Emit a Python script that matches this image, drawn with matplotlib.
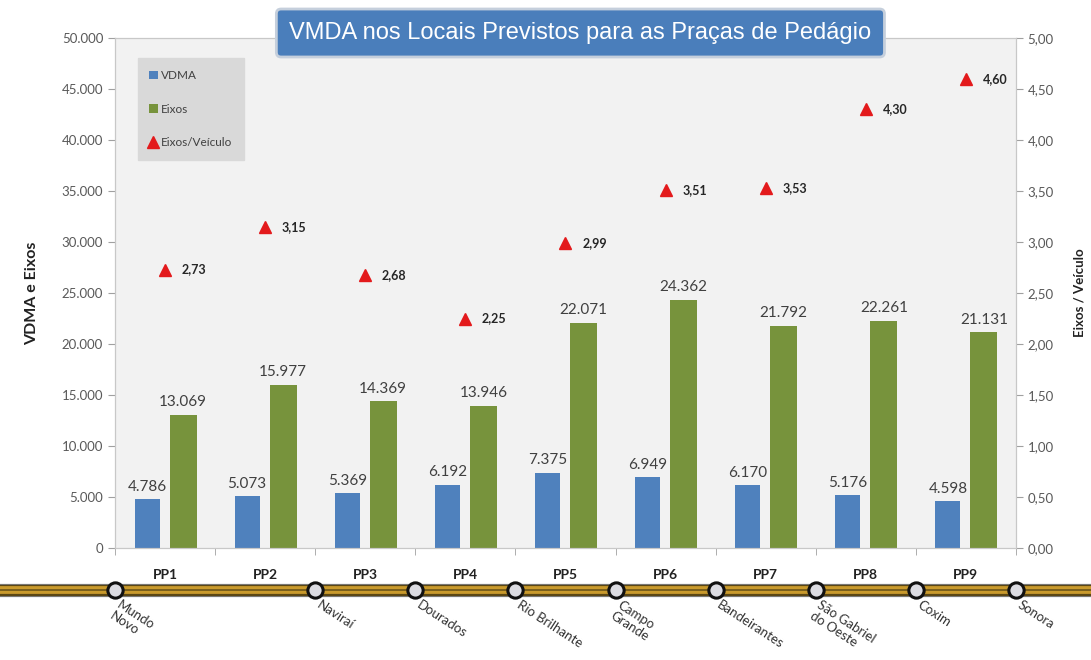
"""VMDA nos locais previstos para as praças de pedágio - bars + ratio markers over a rail strip."""
import numpy as np
import matplotlib
matplotlib.use("Agg")
import matplotlib.pyplot as plt
import matplotlib.transforms as mtransforms
from matplotlib.ticker import FuncFormatter, MultipleLocator

plt.rcParams["font.family"] = ["Lato", "DejaVu Sans"]

pracas = ["PP1", "PP2", "PP3", "PP4", "PP5", "PP6", "PP7", "PP8", "PP9"]
vdma = [4786, 5073, 5369, 6192, 7375, 6949, 6170, 5176, 4598]
eixos = [13069, 15977, 14369, 13946, 22071, 24362, 21792, 22261, 21131]
eixos_veic = [2.73, 3.15, 2.68, 2.25, 2.99, 3.51, 3.53, 4.30, 4.60]
# cities sit on the boundaries between toll plazas (boundary index 0..9)
cidades = ["Mundo\nNovo", "Naviraí", "Dourados", "Rio Brilhante", "Campo\nGrande",
           "Bandeirantes", "São Gabriel\ndo Oeste", "Coxim", "Sonora"]
cidade_pos = [0, 2, 3, 4, 5, 6, 7, 8, 9]

BLUE = "#4f81bd"
GREEN = "#77933c"
RED = "#e31a1c"
GREY_TXT = "#595959"

fig = plt.figure(figsize=(10.91, 6.6), dpi=100, facecolor="white")
ax = fig.add_axes([0.1054, 0.1697, 0.8258, 0.7727])
ax.set_facecolor("#f2f2f2")

x = np.arange(len(pracas))
b1 = ax.bar(x - 0.18, vdma, width=0.25, color=BLUE, label="VDMA")
b2 = ax.bar(x + 0.18, eixos, width=0.27, color=GREEN, label="Eixos")
fmt_mil = lambda v: f"{v:,.0f}".replace(",", ".")
ax.bar_label(b1, labels=[fmt_mil(v) for v in vdma], padding=4, fontsize=11, color="#404040")
ax.bar_label(b2, labels=[fmt_mil(v) for v in eixos], padding=4, fontsize=11, color="#404040")

ax.set_xlim(-0.5, len(pracas) - 0.5)
ax.set_ylim(0, 50000)
ax.yaxis.set_major_locator(MultipleLocator(5000))
ax.yaxis.set_major_formatter(FuncFormatter(lambda v, p: fmt_mil(v)))
ax.tick_params(axis="y", labelsize=9.5, labelcolor=GREY_TXT, color="#a0a0a0", length=5)
ax.set_xticks(x)
ax.set_xticklabels(pracas, fontweight="bold", fontsize=10, color="#222222")
ax.set_xticks(np.arange(-0.5, len(pracas)), minor=True)
ax.tick_params(axis="x", which="major", length=0, pad=15)
ax.tick_params(axis="x", which="minor", length=5, color="#a0a0a0")
for s in ax.spines.values():
    s.set_color("#c8c8c8")
ax.set_ylabel("VDMA e Eixos", fontsize=11.5, fontweight="bold", color="#222222", labelpad=16)

ax2 = ax.twinx()
ax2.set_ylim(0, 5)
tri, = ax2.plot(x, eixos_veic, linestyle="none", marker="^", markersize=8, color=RED,
                label="Eixos/Veículo")
for xi, v in zip(x, eixos_veic):
    ax2.annotate(f"{v:.2f}".replace(".", ","), (xi, v), xytext=(12, 0), textcoords="offset points",
                 va="center", ha="left", fontsize=9, fontweight="bold", color="#262626")
ax2.yaxis.set_major_locator(MultipleLocator(0.5))
ax2.yaxis.set_major_formatter(FuncFormatter(lambda v, p: f"{v:.2f}".replace(".", ",")))
ax2.tick_params(axis="y", labelsize=9.5, labelcolor=GREY_TXT, color="#a0a0a0", length=5)
for s in ax2.spines.values():
    s.set_color("#c8c8c8")
ax2.set_ylabel("Eixos / Veículo", fontsize=9.5, fontweight="bold", color="#222222", labelpad=14)

leg = ax.legend(handles=[b1, b2, tri], loc="upper left", bbox_to_anchor=(0.025, 0.96),
                fontsize=8.5, frameon=True, fancybox=False, facecolor="#d9d9d9", edgecolor="#d9d9d9",
                framealpha=1, labelspacing=1.9, handlelength=0.7, handleheight=0.7,
                handletextpad=0.3, borderpad=1.0, borderaxespad=0)
for t in leg.get_texts():
    t.set_color("#404040")
leg.set_zorder(5)

# rail strip below the plot: x follows the category scale, y in figure fraction
tr = mtransforms.blended_transform_factory(ax.transData, fig.transFigure)
y_rail = 0.106
for lw, col in [(9.5, "#7a7a7a"), (8, "#5b4714"), (5.6, "#c99a2c"), (1.2, "#6b5418")]:
    ax.plot([-3, 11], [y_rail, y_rail], transform=tr, lw=lw, color=col,
            solid_capstyle="butt", clip_on=False, zorder=4)
bx = np.array(cidade_pos) - 0.5
ax.plot(bx, [y_rail] * len(bx), transform=tr, linestyle="none", marker="o", markersize=11,
        markerfacecolor="#dcdce2", markeredgecolor="#111111", markeredgewidth=2.2, clip_on=False,
        zorder=6)
for xb, nome in zip(bx, cidades):
    ax.text(xb + 0.06, y_rail - 0.013, nome, transform=tr, rotation=-33, rotation_mode="anchor",
            ha="left", va="top", fontsize=9.5, color="#333333", linespacing=1.1, clip_on=False)

fig.text(0.532, 0.95, "VMDA nos Locais Previstos para as Praças de Pedágio", ha="center", va="center",
         fontsize=17, color="white", family=["Liberation Sans", "DejaVu Sans"],
         bbox=dict(boxstyle="round,pad=0.55,rounding_size=0.2", facecolor="#4a7ebb",
                   edgecolor="#c5cfdc", linewidth=2))

fig.savefig("out.png", dpi=100, facecolor="white")
